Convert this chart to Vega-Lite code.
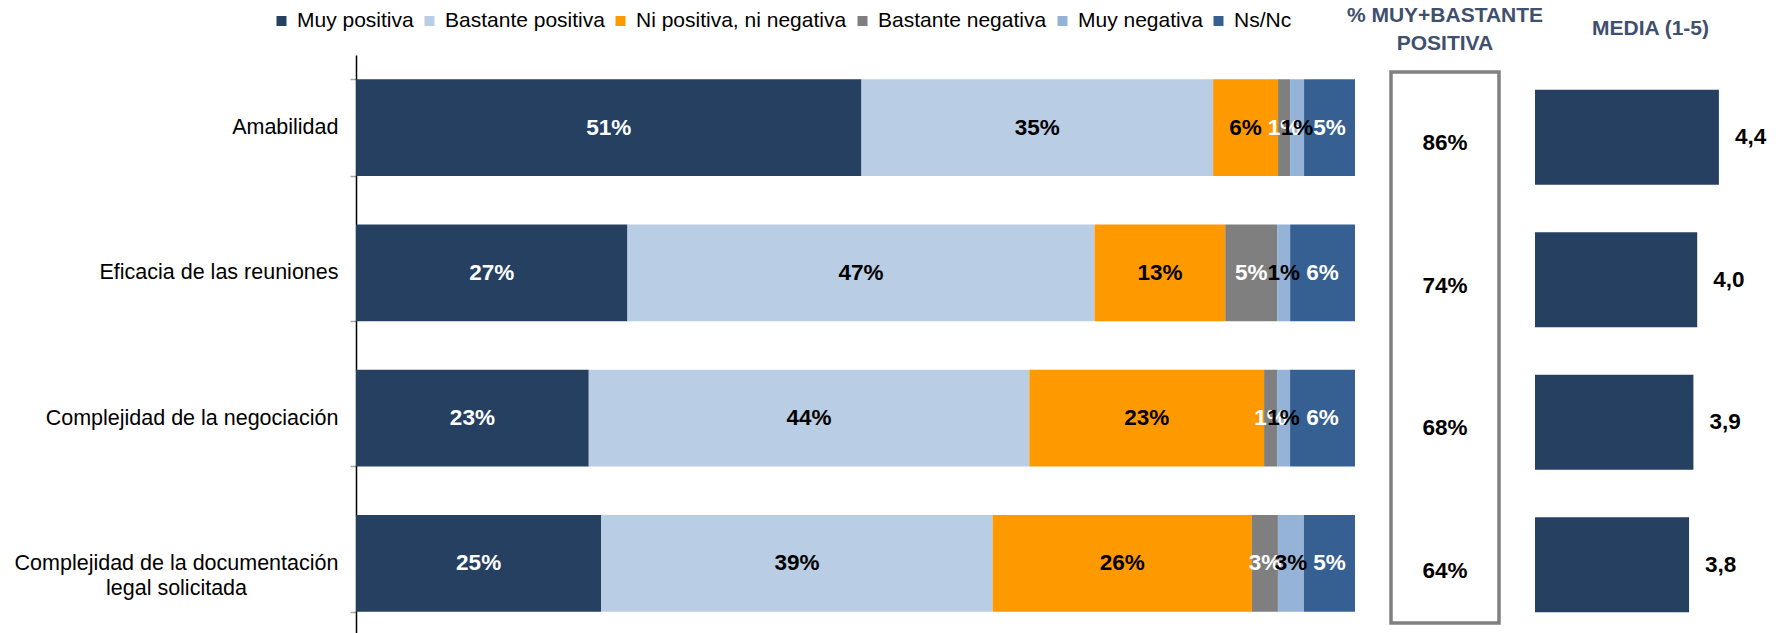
{
  "$schema": "https://vega.github.io/schema/vega-lite/v6.json",
  "background": "white",
  "padding": {"left": 14, "top": 2, "right": 0, "bottom": 0},
  "config": {"font": "Liberation Sans, Arial, sans-serif", "view": {"stroke": null}},
  "datasets": {
    "resp": [
      {"item": "Amabilidad", "cat": "Muy positiva", "ord": 1, "v": 50.6, "lbl": "51%"},
      {"item": "Amabilidad", "cat": "Bastante positiva", "ord": 2, "v": 35.2, "lbl": "35%"},
      {"item": "Amabilidad", "cat": "Ni positiva, ni negativa", "ord": 3, "v": 6.5, "lbl": "6%"},
      {"item": "Amabilidad", "cat": "Bastante negativa", "ord": 4, "v": 1.2, "lbl": "1%"},
      {"item": "Amabilidad", "cat": "Muy negativa", "ord": 5, "v": 1.4, "lbl": "1%"},
      {"item": "Amabilidad", "cat": "Ns/Nc", "ord": 6, "v": 5.1, "lbl": "5%"},
      {"item": "Eficacia de las reuniones", "cat": "Muy positiva", "ord": 1, "v": 27.2, "lbl": "27%"},
      {"item": "Eficacia de las reuniones", "cat": "Bastante positiva", "ord": 2, "v": 46.8, "lbl": "47%"},
      {"item": "Eficacia de las reuniones", "cat": "Ni positiva, ni negativa", "ord": 3, "v": 13.1, "lbl": "13%"},
      {"item": "Eficacia de las reuniones", "cat": "Bastante negativa", "ord": 4, "v": 5.2, "lbl": "5%"},
      {"item": "Eficacia de las reuniones", "cat": "Muy negativa", "ord": 5, "v": 1.3, "lbl": "1%"},
      {"item": "Eficacia de las reuniones", "cat": "Ns/Nc", "ord": 6, "v": 6.5, "lbl": "6%"},
      {"item": "Complejidad de la negociación", "cat": "Muy positiva", "ord": 1, "v": 23.3, "lbl": "23%"},
      {"item": "Complejidad de la negociación", "cat": "Bastante positiva", "ord": 2, "v": 44.1, "lbl": "44%"},
      {"item": "Complejidad de la negociación", "cat": "Ni positiva, ni negativa", "ord": 3, "v": 23.5, "lbl": "23%"},
      {"item": "Complejidad de la negociación", "cat": "Bastante negativa", "ord": 4, "v": 1.3, "lbl": "1%"},
      {"item": "Complejidad de la negociación", "cat": "Muy negativa", "ord": 5, "v": 1.3, "lbl": "1%"},
      {"item": "Complejidad de la negociación", "cat": "Ns/Nc", "ord": 6, "v": 6.5, "lbl": "6%"},
      {"item": "Complejidad de la documentación legal solicitada", "cat": "Muy positiva", "ord": 1, "v": 24.5, "lbl": "25%"},
      {"item": "Complejidad de la documentación legal solicitada", "cat": "Bastante positiva", "ord": 2, "v": 39.1, "lbl": "39%"},
      {"item": "Complejidad de la documentación legal solicitada", "cat": "Ni positiva, ni negativa", "ord": 3, "v": 25.9, "lbl": "26%"},
      {"item": "Complejidad de la documentación legal solicitada", "cat": "Bastante negativa", "ord": 4, "v": 2.6, "lbl": "3%"},
      {"item": "Complejidad de la documentación legal solicitada", "cat": "Muy negativa", "ord": 5, "v": 2.6, "lbl": "3%"},
      {"item": "Complejidad de la documentación legal solicitada", "cat": "Ns/Nc", "ord": 6, "v": 5.1, "lbl": "5%"}
    ],
    "box": [
      {"item": "Amabilidad", "v": 86, "lbl": "86%"},
      {"item": "Eficacia de las reuniones", "v": 74, "lbl": "74%"},
      {"item": "Complejidad de la negociación", "v": 68, "lbl": "68%"},
      {"item": "Complejidad de la documentación legal solicitada", "v": 64, "lbl": "64%"}
    ],
    "media": [
      {"item": "Amabilidad", "m": 4.39, "lbl": "4,4"},
      {"item": "Eficacia de las reuniones", "m": 3.99, "lbl": "4,0"},
      {"item": "Complejidad de la negociación", "m": 3.92, "lbl": "3,9"},
      {"item": "Complejidad de la documentación legal solicitada", "m": 3.84, "lbl": "3,8"}
    ]
  },
  "bounds": "flush",
  "spacing": 36,
  "hconcat": [
    {
      "width": 999,
      "height": 561,
      "data": {"name": "resp"},
      "transform": [
        {"stack": "v", "groupby": ["item"], "sort": [{"field": "ord"}], "offset": "normalize", "as": ["x0", "x1"]}
      ],
      "encoding": {
        "y": {
          "field": "item", "type": "nominal", "sort": null,
          "scale": {"range": [-17, 561], "paddingInner": 0.334, "paddingOuter": 0.1566, "align": 0.533},
          "axis": {
            "title": null,
            "domainColor": "#000000", "domainWidth": 1.5,
            "tickColor": "#A6A6A6", "tickSize": 6, "tickWidth": 1.5, "tickBand": "extent",
            "labelFontSize": 21.5, "labelColor": "#000000", "labelLimit": 500,
            "labelLineHeight": 25,
            "labelExpr": "datum.value == 'Complejidad de la documentación legal solicitada' ? ['Complejidad de la documentación', 'legal solicitada'] : datum.label",
            "labelAlign": {"condition": {"test": "datum.value == 'Complejidad de la documentación legal solicitada'", "value": "center"}, "value": "right"},
            "labelPadding": {"condition": {"test": "datum.value == 'Complejidad de la documentación legal solicitada'", "value": 174}, "value": 12}
          }
        }
      },
      "layer": [
        {
          "mark": {"type": "bar"},
          "encoding": {
            "x": {"field": "x0", "type": "quantitative", "scale": {"domain": [0, 1]}, "axis": null},
            "x2": {"field": "x1"},
            "color": {
              "field": "cat", "type": "nominal",
              "scale": {
                "domain": ["Muy positiva", "Bastante positiva", "Ni positiva, ni negativa", "Bastante negativa", "Muy negativa", "Ns/Nc"],
                "range": ["#254061", "#B9CDE5", "#FF9900", "#7F7F7F", "#95B3D7", "#376092"]
              },
              "legend": {
                "title": null, "orient": "none", "direction": "horizontal",
                "legendX": -85, "legendY": -61.5, "gridAlign": "none",
                "symbolType": "square", "symbolSize": 100, "symbolStrokeWidth": 0,
                "labelFontSize": 21, "labelColor": "#000000", "labelOffset": 5,
                "columnPadding": 5, "padding": 0, "labelLimit": 400
              }
            }
          }
        },
        {
          "transform": [
            {"fold": ["x0", "x1"], "as": ["edge", "pos"]},
            {"aggregate": [{"op": "mean", "field": "pos", "as": "xm"}], "groupby": ["item", "cat", "lbl"]}
          ],
          "mark": {"type": "text", "fontSize": 22.5, "fontWeight": "bold", "baseline": "middle", "align": "center"},
          "encoding": {
            "x": {"field": "xm", "type": "quantitative"},
            "text": {"field": "lbl"},
            "color": {
              "condition": {"test": "datum.cat == 'Muy positiva' || datum.cat == 'Bastante negativa' || datum.cat == 'Ns/Nc'", "value": "#FFFFFF"},
              "value": "#000000"
            }
          }
        }
      ]
    },
    {
      "width": 108,
      "height": 551,
      "view": {"stroke": "#808080", "strokeWidth": 3.5},
      "title": {
        "text": ["% MUY+BASTANTE", "POSITIVA"],
        "fontSize": 21, "fontWeight": "bold", "color": "#404F6E",
        "anchor": "middle", "baseline": "bottom", "offset": -3, "lineHeight": 28.5
      },
      "data": {"name": "box"},
      "mark": {"type": "text", "fontSize": 22.5, "fontWeight": "bold", "color": "#000000", "baseline": "middle"},
      "encoding": {
        "y": {"field": "item", "type": "nominal", "sort": null, "scale": {"type": "point", "padding": 0.434, "align": 0.578}, "axis": null},
        "text": {"field": "lbl"}
      }
    },
    {
      "width": 217,
      "height": 551,
      "title": {
        "text": "MEDIA (1-5)",
        "fontSize": 21, "fontWeight": "bold", "color": "#404F6E",
        "anchor": "middle", "baseline": "bottom", "offset": 12, "dx": 7
      },
      "data": {"name": "media"},
      "encoding": {
        "y": {"field": "item", "type": "nominal", "sort": null, "scale": {"paddingInner": 0.333, "paddingOuter": 0.1, "align": 0.62}, "axis": null}
      },
      "layer": [
        {
          "mark": {"type": "bar", "color": "#254061"},
          "encoding": {
            "x": {"field": "m", "type": "quantitative", "scale": {"domain": [1, 5], "zero": false}, "axis": null},
            "x2": {"datum": 1}
          }
        },
        {
          "mark": {"type": "text", "fontSize": 22.5, "fontWeight": "bold", "color": "#000000", "align": "left", "baseline": "middle", "dx": 16},
          "encoding": {
            "x": {"field": "m", "type": "quantitative"},
            "text": {"field": "lbl"}
          }
        }
      ]
    }
  ]
}
